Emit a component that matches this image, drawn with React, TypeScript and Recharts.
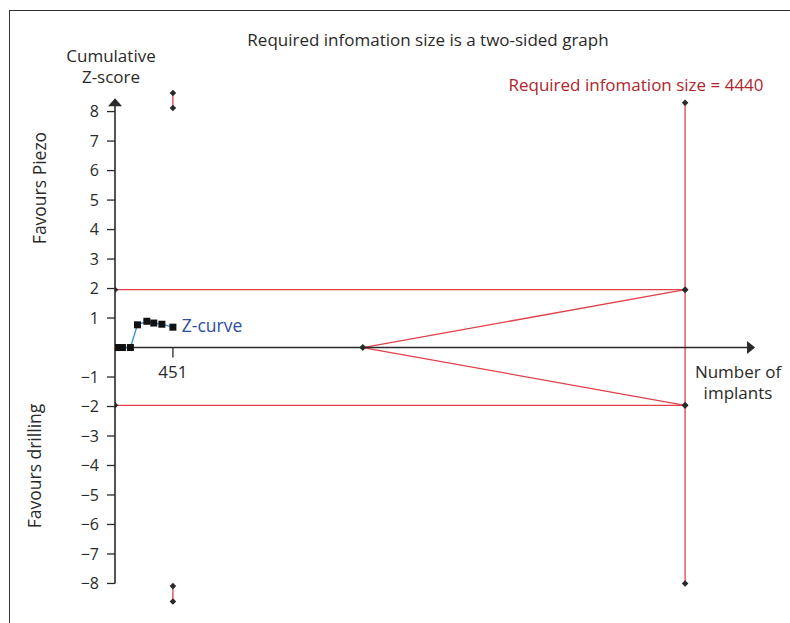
import { LineChart, Line, XAxis, YAxis, ReferenceLine, ReferenceDot } from "recharts";

// axis ticks
const yTicks = [-8, -7, -6, -5, -4, -3, -2, -1, 1, 2, 3, 4, 5, 6, 7, 8];
const xTickLabels = [451];

// cumulative z-curve (number of implants, z-score)
const zCurve = [
  { n: 20, z: 0 },
  { n: 58, z: 0 },
  { n: 120, z: 0 },
  { n: 175, z: 0.77 },
  { n: 248, z: 0.89 },
  { n: 302, z: 0.83 },
  { n: 365, z: 0.79 },
  { n: 451, z: 0.69 },
];

// monitoring boundaries
const upperBoundary = [{ n: 0, z: 1.96 }, { n: 4440, z: 1.96 }];
const lowerBoundary = [{ n: 0, z: -1.96 }, { n: 4440, z: -1.96 }];
const futilityUpper = [{ n: 1930, z: 0 }, { n: 4440, z: 1.96 }];
const futilityLower = [{ n: 1930, z: 0 }, { n: 4440, z: -1.96 }];
const risLine = [{ n: 4440, z: 8.3 }, { n: 4440, z: -8.0 }];
const alphaUpper = [{ n: 451, z: 8.63 }, { n: 451, z: 8.12 }];
const alphaLower = [{ n: 451, z: -8.09 }, { n: 451, z: -8.61 }];

// axis extents (data units)
const yAxisTop = 8.45;
const yAxisBottom = -8;
const xAxisEnd = 4985;

const RED = "#e0404a";
const INK = "#2a2a2a";
const FONT = "'Open Sans', sans-serif";

const diamond = (props: any) => {
  const { cx, cy, index } = props;
  if (cx == null || cy == null) return <g key={index} />;
  const r = 3.3;
  return (
    <polygon
      key={index}
      points={`${cx},${cy - r} ${cx + r},${cy} ${cx},${cy + r} ${cx - r},${cy}`}
      fill={INK}
    />
  );
};

const square = (props: any) => {
  const { cx, cy, index } = props;
  if (cx == null || cy == null) return <g key={index} />;
  return <rect key={index} x={cx - 3.5} y={cy - 3.5} width={7} height={7} fill="#111" />;
};

const upArrow = (props: any) => {
  const { cx, cy } = props;
  return <polygon points={`${cx},${cy} ${cx + 7},${cy + 8} ${cx - 7},${cy + 8}`} fill={INK} />;
};

const rightArrow = (props: any) => {
  const { cx, cy } = props;
  return <polygon points={`${cx},${cy} ${cx - 8},${cy - 6.5} ${cx - 8},${cy + 6.5}`} fill={INK} />;
};

const xTick = (label: number) => (props: any) => {
  const { cx, cy } = props;
  return (
    <g>
      <line x1={cx} y1={cy} x2={cx} y2={cy + 10} stroke={INK} strokeWidth={1.3} />
      <text x={cx} y={cy + 30} textAnchor="middle" fill={INK} fontSize={17} fontFamily={FONT}>
        {label}
      </text>
    </g>
  );
};

function Txt({ x, y, children, color = INK, size = 17, rotate = false }: any) {
  return (
    <div
      style={{
        position: "absolute",
        left: x,
        top: y,
        transform: `translate(-50%, -50%)${rotate ? " rotate(-90deg)" : ""}`,
        whiteSpace: "nowrap",
        fontFamily: FONT,
        fontSize: size,
        color,
        lineHeight: 1.25,
        textAlign: "center",
      }}
    >
      {children}
    </div>
  );
}

const redLines = [upperBoundary, lowerBoundary, futilityUpper, futilityLower, risLine, alphaUpper, alphaLower];

export default function App() {
  return (
    <div style={{ position: "absolute", left: 0, top: 0, width: 790, height: 623, background: "#fff", overflow: "hidden" }}>
      <div
        style={{
          position: "absolute",
          left: 9,
          top: 10,
          width: 800,
          height: 640,
          borderLeft: "1.5px solid #333",
          borderTop: "1.5px solid #333",
        }}
      />
      <div style={{ position: "absolute", left: 0, top: 0 }}>
        <LineChart width={790} height={623} margin={{ top: 88, right: 33, bottom: 13, left: 55 }}>
          <XAxis type="number" dataKey="n" domain={[0, 5000]} allowDataOverflow hide />
          <YAxis
            type="number"
            dataKey="z"
            domain={[-8.9, 8.8]}
            allowDataOverflow
            ticks={yTicks}
            width={60}
            axisLine={false}
            tickSize={8}
            tickMargin={8}
            tickLine={{ stroke: INK, strokeWidth: 1.3 }}
            tick={{ fill: INK, fontSize: 16, fontFamily: FONT }}
            tickFormatter={(v: number) => (v < 0 ? `\u2212${Math.abs(v)}` : `${v}`)}
            interval={0}
          />
          {redLines.map((d, i) => (
            <Line
              key={i}
              data={d}
              dataKey="z"
              stroke={RED}
              strokeWidth={1.3}
              dot={diamond}
              activeDot={false}
              isAnimationActive={false}
            />
          ))}
          <ReferenceLine segment={[{ x: 0, y: yAxisBottom }, { x: 0, y: yAxisTop - 0.2 }]} stroke={INK} strokeWidth={1.6} />
          <ReferenceLine segment={[{ x: 0, y: 0 }, { x: xAxisEnd - 40, y: 0 }]} stroke={INK} strokeWidth={1.6} />
          <ReferenceDot x={0} y={yAxisTop} shape={upArrow} />
          <ReferenceDot x={xAxisEnd} y={0} shape={rightArrow} />
          {xTickLabels.map((t) => (
            <ReferenceDot key={t} x={t} y={0} shape={xTick(t)} />
          ))}
          <Line
            data={zCurve}
            dataKey="z"
            stroke="#3a8fd6"
            strokeWidth={1.3}
            dot={square}
            activeDot={false}
            isAnimationActive={false}
          />
        </LineChart>
      </div>
      <Txt x={428} y={40}>Required infomation size is a two-sided graph</Txt>
      <Txt x={111} y={66}>Cumulative<br />Z-score</Txt>
      <Txt x={636} y={85} color="#b0252d">Required infomation size = 4440</Txt>
      <Txt x={212} y={326} color="#2c4f9e" size={17.5}>Z-curve</Txt>
      <Txt x={738} y={382}>Number of<br />implants</Txt>
      <Txt x={40} y={188} rotate size={17.5}>Favours Piezo</Txt>
      <Txt x={35} y={466} rotate size={17.5}>Favours drilling</Txt>
    </div>
  );
}
